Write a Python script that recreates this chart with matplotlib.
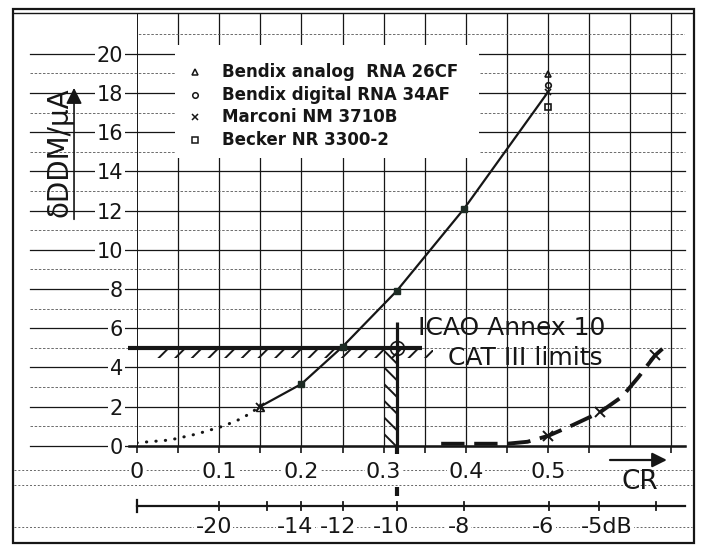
import numpy as np
import matplotlib
matplotlib.use("Agg")
import matplotlib.pyplot as plt
from matplotlib.patches import Rectangle

plt.rcParams["font.family"] = ["DejaVu Sans"]
plt.rcParams["hatch.linewidth"] = 1.4

# data (CR vs deviation in DDM / uA)
cr_dotted = [0.0, 0.04, 0.073, 0.105, 0.128, 0.15]
ddm_dotted = [0.15, 0.29, 0.6, 1.0, 1.4, 2.0]

cr_solid = [0.15, 0.2, 0.25, 0.316, 0.398, 0.5]
ddm_solid = [2.0, 3.15, 5.05, 7.9, 12.1, 18.05]

cr_dashed = [0.37, 0.45, 0.475, 0.5, 0.53, 0.563, 0.59, 0.61, 0.63, 0.642]
ddm_dashed = [0.1, 0.1, 0.2, 0.5, 1.05, 1.7, 2.5, 3.5, 4.6, 5.05]
cr_dashed_marks = [0.5, 0.563, 0.63]
ddm_dashed_marks = [0.5, 1.73, 4.63]

# the four receivers split up at the last point
cr_end = 0.5
ddm_end = [18.95, 18.4, 18.05, 17.3]
receivers = ["Bendix analog  RNA 26CF", "Bendix digital RNA 34AF",
             "Marconi NM 3710B", "Becker NR 3300-2"]
receiver_markers = ["^", "o", "x", "s"]

limit_ddm = 5.0
limit_db = -10

x_ticks = [0, 0.1, 0.2, 0.3, 0.4, 0.5]
x_labels = ["0", "0.1", "0.2", "0.3", "0.4", "0.5"]
y_ticks = list(range(0, 21, 2))
db_ticks = [-20, -16, -14, -12, -10, -8, -6, -5, -4]
db_labels = {-20: "-20", -14: "-14", -12: "-12", -10: "-10", -8: "-8", -6: "-6"}

ink = "#161616"
XMAX, YMAX = 0.666, 22.08

fig = plt.figure(figsize=(7.01, 5.46), dpi=100)
ax = fig.add_axes([137 / 701, 100.3 / 546, 547.5 / 701, 432.7 / 546])
ax.set_xlim(0, XMAX)
ax.set_ylim(0, YMAX)
for s in ax.spines.values():
    s.set_visible(False)
ax.set_axisbelow(False)

# outer frame of the scanned page
fig.add_artist(Rectangle((13 / 701, 3 / 546), 681 / 701, 534 / 546,
                         transform=fig.transFigure, fill=False, lw=1.6, color=ink))

# graph paper: vertical lines every 0.05
for x in np.arange(0.05, 0.651, 0.05):
    ax.plot([x, x], [0, YMAX], color=ink, lw=0.9, zorder=1)
ax.plot([0, 0], [0, YMAX], color=ink, lw=1.4, zorder=1)

# horizontal lines, running into the left margin
for y in range(0, 21):
    if y % 2 == 0:
        ax.plot([-0.13, XMAX], [y, y], color=ink, lw=0.9, zorder=1, clip_on=False)
    else:
        ax.plot([-0.13, XMAX], [y, y], color="#555555", lw=0.6, ls=(0, (3, 2)),
                zorder=1, clip_on=False)
ax.plot([-0.15, 0.675], [YMAX, YMAX], color=ink, lw=1.0, zorder=1, clip_on=False)
ax.plot([-0.13, XMAX], [21, 21], color="#555555", lw=0.6, ls=(0, (3, 2)), zorder=1)
for y in [-1.25, -2.0, -4.15]:
    ax.plot([-0.15, 0.675], [y, y], color="#666666", lw=0.7, ls=(0, (2, 2)),
            zorder=1, clip_on=False)

# x axis
ax.plot([-0.01, XMAX], [0, 0], color=ink, lw=1.8, zorder=3, clip_on=False)

# white legend panel
ax.add_patch(Rectangle((0.046, 14.7), 0.37, 5.75, facecolor="white",
                       edgecolor="none", zorder=2))
for i, (name, m) in enumerate(zip(receivers, receiver_markers)):
    yy = 19.06 - 1.15 * i
    ax.plot(0.0706, yy, marker=m, ms=4, mfc="none", mec=ink, mew=1.1,
            ls="none", zorder=4)
    ax.text(0.1034, yy, name, fontsize=12, fontweight="bold", color=ink,
            va="center", ha="left", zorder=4)

# CAT III limits
ax.plot([-0.011, 0.347], [limit_ddm, limit_ddm], color=ink, lw=3, zorder=5,
        clip_on=False, solid_capstyle="butt")
ax.add_patch(Rectangle((0.02, 4.45), 0.34, 0.45, fill=False, hatch="//",
                       edgecolor=ink, lw=0, zorder=4))
cr_limit = 10 ** (limit_db / 20)
ax.plot([cr_limit, cr_limit], [0, 6.3], color=ink, lw=2.3, zorder=5,
        solid_capstyle="butt")
ax.add_patch(Rectangle((cr_limit - 0.014, 0), 0.013, limit_ddm, fill=False,
                       hatch="\\\\", edgecolor=ink, lw=0, zorder=4))
ax.plot(cr_limit, limit_ddm, marker="o", ms=10, mfc="none", mec=ink, mew=1.2,
        zorder=6)
ax.plot([cr_limit, cr_limit], [-0.05, -0.4], color=ink, lw=3, clip_on=False,
        solid_capstyle="butt")
ax.plot([cr_limit, cr_limit], [-2.1, -2.55], color=ink, lw=3, clip_on=False,
        solid_capstyle="butt")
ax.text(0.456, 6.0, "ICAO Annex 10", fontsize=18, color=ink, ha="center",
        va="center", zorder=4)
ax.text(0.472, 4.5, "CAT III limits", fontsize=18, color=ink, ha="center",
        va="center", zorder=4)

# curves
ax.plot(cr_dotted, ddm_dotted, color=ink, lw=2.2, ls=(0, (0.1, 3)),
        dash_capstyle="round", zorder=5)
ax.plot(cr_solid, ddm_solid, color=ink, lw=1.6, zorder=5)
ax.plot(cr_solid[1:5], ddm_solid[1:5], ls="none", marker="s", ms=5,
        color="#1d2b24", zorder=6)
ax.plot(cr_solid[0], ddm_solid[0], marker="x", ms=6, mew=1.3, color=ink, zorder=6)
ax.plot(cr_solid[0], ddm_solid[0], marker="^", ms=6, mfc="none", mec=ink,
        mew=1.0, zorder=6)
for yy, m in zip(ddm_end, receiver_markers):
    ax.plot(cr_end, yy, marker=m, ms=4, mfc="none", mec=ink, mew=1.2, zorder=6)
ax.plot(cr_dashed, ddm_dashed, color=ink, lw=2.8, ls=(0, (6, 2.5)), zorder=5)
ax.plot(cr_dashed_marks, ddm_dashed_marks, ls="none", marker="x", ms=7,
        mew=1.4, color=ink, zorder=6)

# ticks and labels
ax.set_yticks(y_ticks)
ax.set_yticklabels([str(v) for v in y_ticks])
ax.set_xticks(x_ticks)
ax.set_xticklabels(x_labels)
ax.set_xticks(np.arange(0.05, 0.66, 0.1), minor=True)
ax.tick_params(axis="y", length=0, pad=10, labelsize=15, labelcolor=ink)
ax.tick_params(axis="x", which="both", length=5, width=1.2, color=ink,
               pad=7, labelsize=16, labelcolor=ink)
for lab in ax.get_yticklabels() + ax.get_xticklabels():
    lab.set_bbox(dict(facecolor="white", edgecolor="none", pad=1))

ax.text(-0.0937, 14.98, "δDDM/µA", rotation=90, fontsize=20, color=ink,
        ha="center", va="center", zorder=4, clip_on=False)
ax.annotate("", xy=(-0.0766, 18.4), xytext=(-0.0766, 11.41),
            arrowprops=dict(arrowstyle="-|>", lw=1.2, color=ink,
                            mutation_scale=24),
            annotation_clip=False)
ax.annotate("", xy=(0.648, -0.73), xytext=(0.572, -0.73),
            arrowprops=dict(arrowstyle="-|>", lw=1.6, color=ink,
                            mutation_scale=22),
            annotation_clip=False)
ax.text(0.612, -1.85, "CR", fontsize=19, color=ink, ha="center", va="center",
        clip_on=False)

# second scale in dB
y_db = -3.08
ax.plot([0, XMAX], [y_db, y_db], color=ink, lw=1.6, clip_on=False)
ax.plot([0, 0], [y_db - 0.3, y_db + 0.3], color=ink, lw=1.6, clip_on=False)
for db in db_ticks:
    x = 10 ** (db / 20)
    ax.plot([x, x], [y_db - 0.2, y_db + 0.2], color=ink, lw=1.3, clip_on=False)
    if db in db_labels:
        ax.annotate(db_labels[db], (x, -4.16), xytext=(-4, 0),
                    textcoords="offset points", fontsize=16, color=ink,
                    ha="center", va="center", annotation_clip=False,
                    bbox=dict(facecolor="white", edgecolor="none", pad=1))
ax.annotate("-5dB", (10 ** (-5 / 20), -4.16), xytext=(-13, 0),
            textcoords="offset points", fontsize=16, color=ink, ha="left",
            va="center", annotation_clip=False,
            bbox=dict(facecolor="white", edgecolor="none", pad=1))

fig.savefig("out.png", dpi=100, facecolor="white")
